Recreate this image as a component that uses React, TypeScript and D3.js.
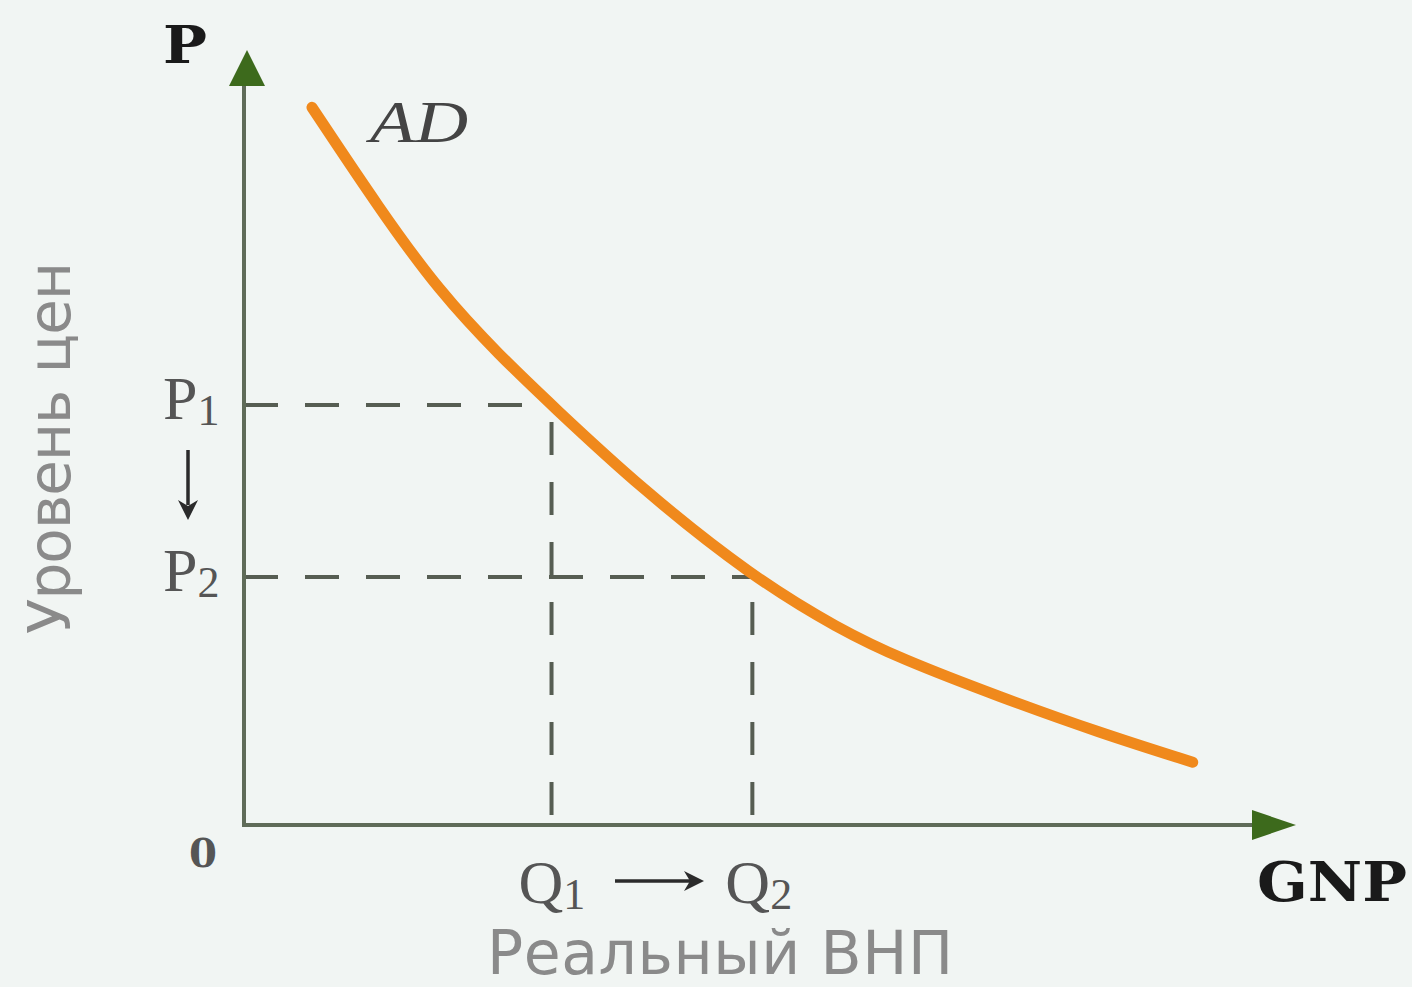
import React from 'react';
import * as d3 from 'd3';

// AD curve (Q on 0..100, P on 0..100)
const adQ = [6.5, 13.0, 18.7, 24.5, 29.4, 37.9, 48.6, 57.0, 62.7, 72.3, 81.8, 90.7];
const adP = [92.6, 79.4, 68.8, 60.5, 54.2, 43.5, 32.0, 25.2, 21.5, 16.5, 11.9, 8.1];

// equilibrium levels
const levelNames = ['1', '2'];
const levelQ = [29.4, 48.6];
const levelP = [54.2, 32.0];

const W = 1412;
const H = 987;

const App: React.FC = () => {
  const x = d3.scaleLinear().domain([0, 100]).range([244, 1290]);
  const y = d3.scaleLinear().domain([0, 100]).range([825, 50]);

  const pts: [number, number][] = adQ.map((q, i) => [q, adP[i]]);
  const line = d3
    .line<[number, number]>()
    .x((d) => x(d[0]))
    .y((d) => y(d[1]))
    .curve(d3.curveBasis);

  const x0 = x(0);
  const y0 = y(0);
  const axisCol = '#5f6b58';
  const headCol = '#3d6a1c';
  const dashCol = '#565d52';

  return (
    <div style={{ position: 'fixed', left: 0, top: 0, width: W, height: H }}>
      <svg width={W} height={H} style={{ display: 'block', background: '#f1f5f3' }}>
        {/* dashed guides */}
        {levelQ.map((q, i) => (
          <g key={i} stroke={dashCol} strokeWidth={4} strokeDasharray="34 27" fill="none">
            <line x1={x0} y1={y(levelP[i])} x2={x(q)} y2={y(levelP[i])} />
            <line x1={x(q)} y1={y0} x2={x(q)} y2={y(levelP[i])} strokeDasharray="33 27" strokeDashoffset={-10} />
          </g>
        ))}

        {/* axes */}
        <line x1={x0} y1={y0} x2={x0} y2={80} stroke={axisCol} strokeWidth={4} />
        <line x1={x0 - 2} y1={y0} x2={1262} y2={y0} stroke={axisCol} strokeWidth={4} />
        <path d={`M${x0 + 3},50 L${x0 + 21},86 L${x0 - 15},86 Z`} fill={headCol} />
        <path d={`M1296,${y0} L1252,${y0 - 15} L1252,${y0 + 15} Z`} fill={headCol} />

        {/* AD curve */}
        <path d={line(pts) ?? ''} fill="none" stroke="#f0891c" strokeWidth={11} strokeLinecap="round" />

        {/* axis titles */}
        <text x={163} y={63} fontFamily="DejaVu Serif" fontWeight="bold" fontSize={52} fill="#1a1a1a" textLength={44} lengthAdjust="spacingAndGlyphs">P</text>
        <text x={1257} y={901} fontFamily="DejaVu Serif" fontWeight="bold" fontSize={54} fill="#1a1a1a" textLength={150} lengthAdjust="spacingAndGlyphs">GNP</text>
        <text x={189} y={867} fontFamily="DejaVu Serif" fontWeight="bold" fontSize={40} fill="#555" textLength={28} lengthAdjust="spacingAndGlyphs">0</text>
        <text x={370} y={142} fontFamily="Liberation Serif" fontStyle="italic" fontSize={60} fill="#444" textLength={98} lengthAdjust="spacingAndGlyphs">AD</text>

        {/* P1 / P2 */}
        {levelP.map((p, i) => (
          <text key={'p' + i} x={163} y={y(p) + 14} fontFamily="Liberation Serif" fontSize={62} fill="#555">
            P<tspan fontSize={44} dy={6}>{levelNames[i]}</tspan>
          </text>
        ))}
        {/* Q1 / Q2 */}
        {levelQ.map((q, i) => (
          <text key={'q' + i} x={x(q) - 33 + i * 6} y={903} fontFamily="Liberation Serif" fontSize={62} fill="#555">
            Q<tspan fontSize={44} dy={6}>{levelNames[i]}</tspan>
          </text>
        ))}

        {/* shift arrows */}
        <g stroke="#2b2b2b" strokeWidth={3.5}>
          <line x1={188} y1={450} x2={188} y2={505} />
          <line x1={615} y1={881} x2={690} y2={881} />
        </g>
        <path d="M178,500 L188,520 L198,500 L188,506 Z" fill="#2b2b2b" />
        <path d="M684,871 L704,881 L684,891 L690,881 Z" fill="#2b2b2b" />

        <text x={720} y={974} textAnchor="middle" fontFamily="DejaVu Sans" fontSize={60} fill="#8a8a8a" textLength={466}>Реальный ВНП</text>
        <text transform="translate(70,448) rotate(-90)" textAnchor="middle" fontFamily="DejaVu Sans" fontSize={58} fill="#8a8a8a" textLength={372}>Уровень цен</text>
      </svg>
    </div>
  );
};

export default App;
